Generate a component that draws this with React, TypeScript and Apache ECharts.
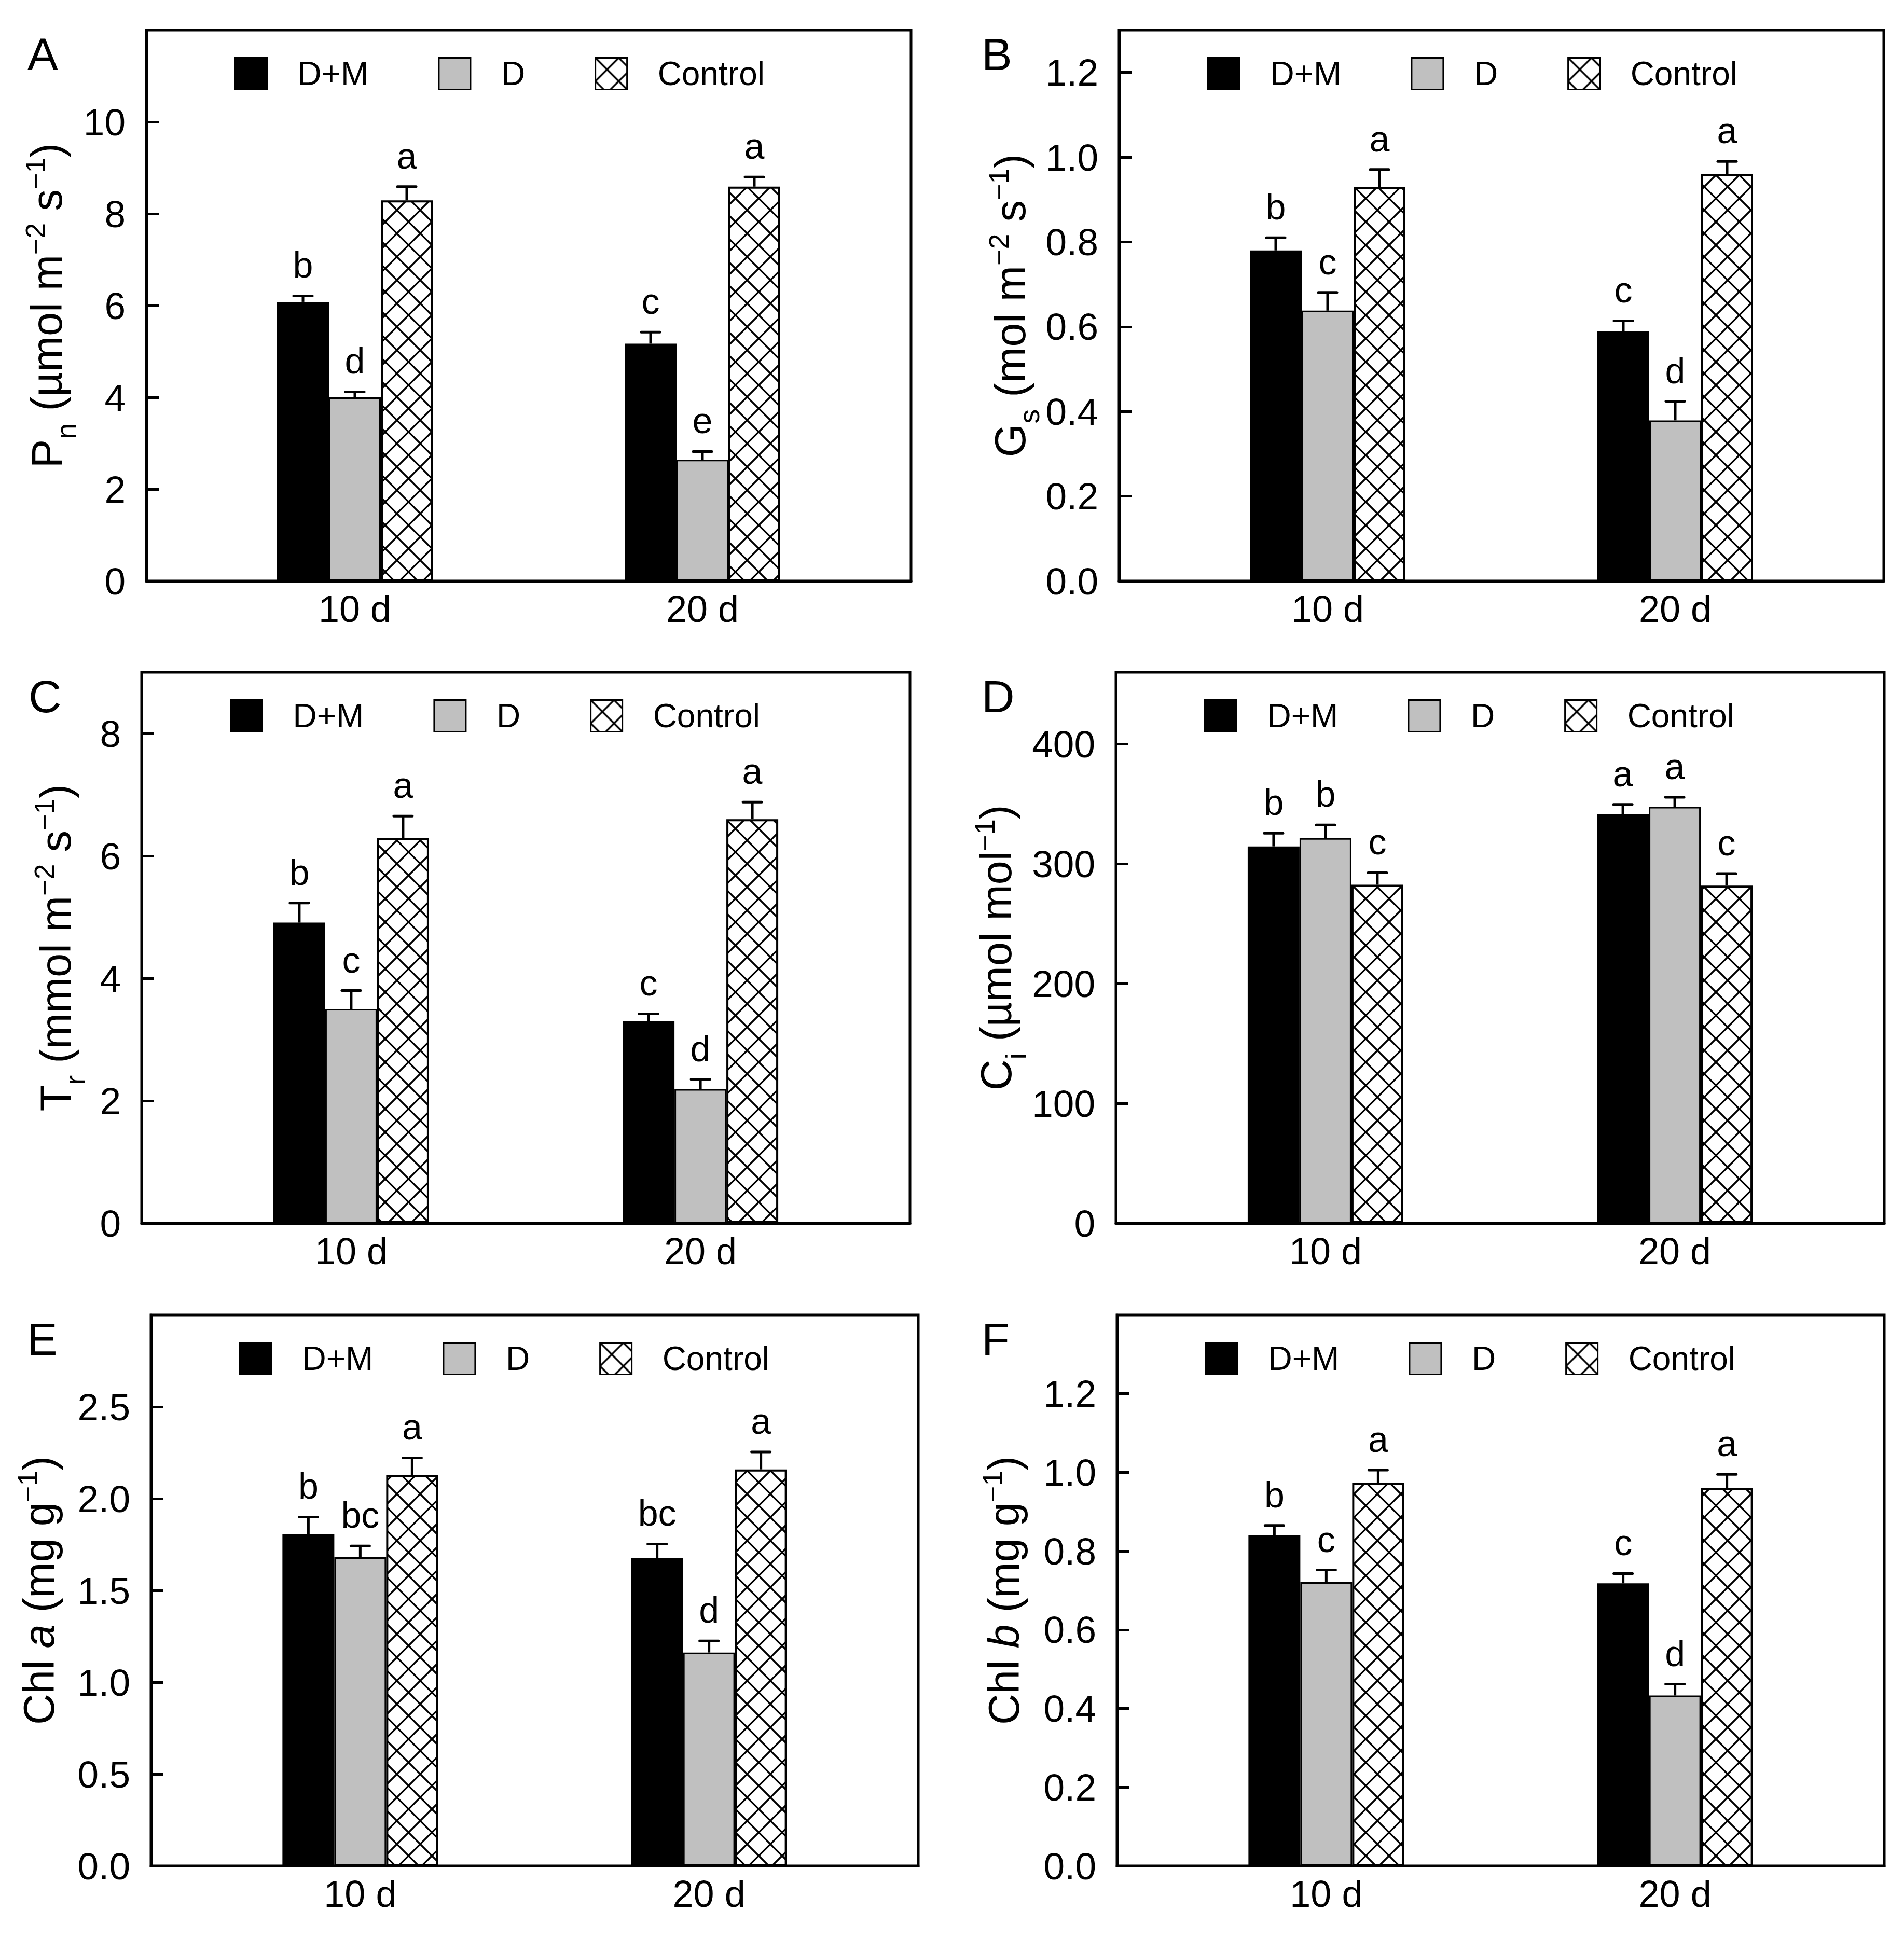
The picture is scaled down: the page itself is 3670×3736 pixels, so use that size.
import * as echarts from "echarts"
import { useEffect, useRef } from "react"

const FONT = "'Liberation Sans', Arial, Helvetica, sans-serif"

const days = ["10 d", "20 d"]
const treatments = ["D+M", "D", "Control"]

// A  Pn — rows: D+M, D, Control ; columns: 10 d, 20 d
const pnMeans = [[6.08, 5.17], [4.0, 2.64], [8.29, 8.59]]
const pnErrs = [[0.13, 0.25], [0.12, 0.18], [0.3, 0.21]]
const pnSig = [["b", "c"], ["d", "e"], ["a", "a"]]
const pnTicks = [0, 2, 4, 6, 8, 10]

// B  Gs
const gsMeans = [[0.78, 0.59], [0.638, 0.379], [0.93, 0.96]]
const gsErrs = [[0.03, 0.024], [0.043, 0.045], [0.041, 0.03]]
const gsSig = [["b", "c"], ["c", "d"], ["a", "a"]]
const gsTicks = [0, 0.2, 0.4, 0.6, 0.8, 1.0, 1.2]

// C  Tr
const trMeans = [[4.91, 3.3], [3.5, 2.19], [6.29, 6.6]]
const trErrs = [[0.32, 0.12], [0.3, 0.16], [0.36, 0.28]]
const trSig = [["b", "c"], ["c", "d"], ["a", "a"]]
const trTicks = [0, 2, 4, 6, 8]

// D  Ci
const ciMeans = [[314.6, 341.7], [321.5, 347.6], [282.6, 281.9]]
const ciErrs = [[11, 8], [11, 8], [10, 10]]
const ciSig = [["b", "a"], ["b", "a"], ["c", "c"]]
const ciTicks = [0, 100, 200, 300, 400]

// E  Chl a
const chlaMeans = [[1.807, 1.676], [1.681, 1.162], [2.128, 2.159]]
const chlaErrs = [[0.093, 0.077], [0.061, 0.063], [0.094, 0.095]]
const chlaSig = [["b", "bc"], ["bc", "d"], ["a", "a"]]
const chlaTicks = [0, 0.5, 1.0, 1.5, 2.0, 2.5]

// F  Chl b
const chlbMeans = [[0.841, 0.718], [0.721, 0.433], [0.973, 0.961]]
const chlbErrs = [[0.024, 0.025], [0.031, 0.029], [0.033, 0.034]]
const chlbSig = [["b", "c"], ["c", "d"], ["a", "a"]]
const chlbTicks = [0, 0.2, 0.4, 0.6, 0.8, 1.0, 1.2]

const BAR_W = 100
const CAP_W = 36
const LINE_W = 5

const hatchSvg =
    '<svg xmlns="http://www.w3.org/2000/svg" width="45" height="45">' +
    '<rect width="45" height="45" fill="#ffffff"/>' +
    '<path d="M-5,-5L50,50M50,-5L-5,50" stroke="#000000" stroke-width="3.4" fill="none"/>' +
    "</svg>"

const hatch = {
    image: "data:image/svg+xml;charset=utf-8," + encodeURIComponent(hatchSvg),
    repeat: "repeat",
    imageWidth: 45,
    imageHeight: 45,
}

const barStyles = [
    { color: "#000000", borderColor: "#000000", borderWidth: 0 },
    { color: "#c0c0c0", borderColor: "#000000", borderWidth: 3 },
    { color: hatch, borderColor: "#000000", borderWidth: 4 },
]

const panels = [
    { tag: "A", title: "{m|P}{sub|n}{m| (µmol m}{sup|−2}{m| s}{sup|−1}{m|)}", means: pnMeans, errs: pnErrs, sig: pnSig, ticks: pnTicks, max: 12, digits: 0, left: 282, top: 58, width: 1474, nameGap: 158, tagX: 53 },
    { tag: "B", title: "{m|G}{sub|s}{m| (mol m}{sup|−2}{m| s}{sup|−1}{m|)}", means: gsMeans, errs: gsErrs, sig: gsSig, ticks: gsTicks, max: 1.3, digits: 1, left: 2157, top: 58, width: 1474, nameGap: 150, tagX: 1892 },
    { tag: "C", title: "{m|T}{sub|r}{m| (mmol m}{sup|−2}{m| s}{sup|−1}{m|)}", means: trMeans, errs: trErrs, sig: trSig, ticks: trTicks, max: 9, digits: 0, left: 273, top: 1296, width: 1481, nameGap: 132, tagX: 55 },
    { tag: "D", title: "{m|C}{sub|i}{m| (µmol mol}{sup|−1}{m|)}", means: ciMeans, errs: ciErrs, sig: ciSig, ticks: ciTicks, max: 460, digits: 0, left: 2151, top: 1296, width: 1481, nameGap: 190, tagX: 1892 },
    { tag: "E", title: "{m|Chl }{it|a}{m| (mg g}{sup|−1}{m|)}", means: chlaMeans, errs: chlaErrs, sig: chlaSig, ticks: chlaTicks, max: 3, digits: 1, left: 291, top: 2535, width: 1479, nameGap: 182, tagX: 52 },
    { tag: "F", title: "{m|Chl }{it|b}{m| (mg g}{sup|−1}{m|)}", means: chlbMeans, errs: chlbErrs, sig: chlbSig, ticks: chlbTicks, max: 1.4, digits: 1, left: 2153, top: 2535, width: 1479, nameGap: 184, tagX: 1892 },
]

const PLOT_H = 1062

const titleRich = {
    m: { fontSize: 83, lineHeight: 83, padding: [8, 0, 0, 0], verticalAlign: "top", fontFamily: FONT, color: "#000" },
    it: { fontSize: 83, lineHeight: 83, padding: [8, 0, 0, 0], verticalAlign: "top", fontStyle: "italic", fontFamily: FONT, color: "#000" },
    sub: { fontSize: 56, lineHeight: 56, padding: [58, 0, 0, 0], verticalAlign: "top", fontFamily: FONT, color: "#000" },
    sup: { fontSize: 54, lineHeight: 54, verticalAlign: "top", fontFamily: FONT, color: "#000" },
}

function buildOption() {
    const grid: any[] = []
    const xAxis: any[] = []
    const yAxis: any[] = []
    const legend: any[] = []
    const series: any[] = []
    const graphic: any[] = []

    panels.forEach((p, pi) => {
        grid.push({
            left: p.left, top: p.top, width: p.width, height: PLOT_H,
            show: true, borderColor: "#000", borderWidth: LINE_W, backgroundColor: "transparent",
        })
        xAxis.push({
            type: "value", gridIndex: pi, min: 0.4, max: 2.6,
            axisLine: { onZero: false, lineStyle: { color: "#000", width: LINE_W } },
            axisTick: { show: false },
            splitLine: { show: false },
            axisLabel: {
                customValues: [1, 2],
                formatter: (v: number) => days[Math.round(v) - 1] ?? "",
                fontSize: 72, fontFamily: FONT, color: "#000", margin: 18,
            },
        })
        yAxis.push({
            type: "value", gridIndex: pi, min: 0, max: p.max,
            axisLine: { show: true, onZero: false, lineStyle: { color: "#000", width: LINE_W } },
            axisTick: { show: true, inside: true, length: 24, customValues: p.ticks, lineStyle: { color: "#000", width: LINE_W } },
            splitLine: { show: false },
            axisLabel: {
                customValues: p.ticks,
                formatter: (v: number) => v.toFixed(p.digits),
                fontSize: 73, fontFamily: FONT, color: "#000", margin: 40,
            },
            name: p.title,
            nameLocation: "middle",
            nameRotate: 90,
            nameGap: p.nameGap,
            nameTextStyle: { fontSize: 83, fontFamily: FONT, color: "#000", rich: titleRich },
        })
        legend.push({
            data: treatments,
            left: p.left + 170,
            top: p.top + 52,
            padding: 0,
            itemWidth: 61,
            itemHeight: 61,
            itemGap: 134,
            icon: "rect",
            selectedMode: false,
            itemStyle: { borderColor: "#000", borderWidth: 3 },
            textStyle: { fontSize: 64, fontFamily: FONT, color: "#000", padding: [0, 0, 0, 54] },
        })
        graphic.push({
            type: "text",
            left: p.tagX,
            top: p.top + 2,
            style: { text: p.tag, fontSize: 88, fontFamily: FONT, fill: "#000" },
        })

        treatments.forEach((name, t) => {
            series.push({
                type: "bar",
                name,
                xAxisIndex: pi,
                yAxisIndex: pi,
                barWidth: BAR_W,
                barGap: "0%",
                silent: true,
                itemStyle: barStyles[t],
                data: days.map((_, i) => [i + 1, p.means[t][i]]),
            })
        })
        treatments.forEach((name, t) => {
            series.push({
                type: "custom",
                name: name + " error " + p.tag,
                xAxisIndex: pi,
                yAxisIndex: pi,
                clip: false,
                silent: true,
                z: 5,
                encode: { x: 0, y: 1 },
                data: days.map((_, i) => [i + 1, p.means[t][i], p.errs[t][i]]),
                renderItem: (params: any, api: any) => {
                    const x = api.value(0)
                    const m = api.value(1)
                    const e = api.value(2)
                    const base = api.coord([x, m])
                    const tip = api.coord([x, m + e])
                    const cx = base[0] + (t - 1) * BAR_W
                    return {
                        type: "group",
                        children: [
                            { type: "line", shape: { x1: cx, y1: base[1], x2: cx, y2: tip[1] }, style: { stroke: "#000", lineWidth: LINE_W } },
                            { type: "line", shape: { x1: cx - CAP_W / 2, y1: tip[1], x2: cx + CAP_W / 2, y2: tip[1] }, style: { stroke: "#000", lineWidth: LINE_W, lineCap: "round" } },
                            {
                                type: "text", x: cx, y: tip[1] - 24,
                                style: { text: p.sig[t][params.dataIndex], fontSize: 70, fontFamily: FONT, fill: "#000", align: "center", verticalAlign: "bottom" },
                            },
                        ],
                    }
                },
            })
        })
    })

    return { animation: false, backgroundColor: "#fff", grid, xAxis, yAxis, legend, series, graphic }
}

const App: React.FC = () => {
    const ref = useRef<HTMLDivElement | null>(null)

    useEffect(() => {
        if (!ref.current) return
        const chart = echarts.init(ref.current, undefined, { renderer: "svg" })
        chart.setOption(buildOption() as any)
        return () => {
            chart.dispose()
        }
    }, [])

    return <div ref={ref} style={{ position: "absolute", left: 0, top: 0, width: 3670, height: 3736, background: "#fff" }}></div>
}

export default App
